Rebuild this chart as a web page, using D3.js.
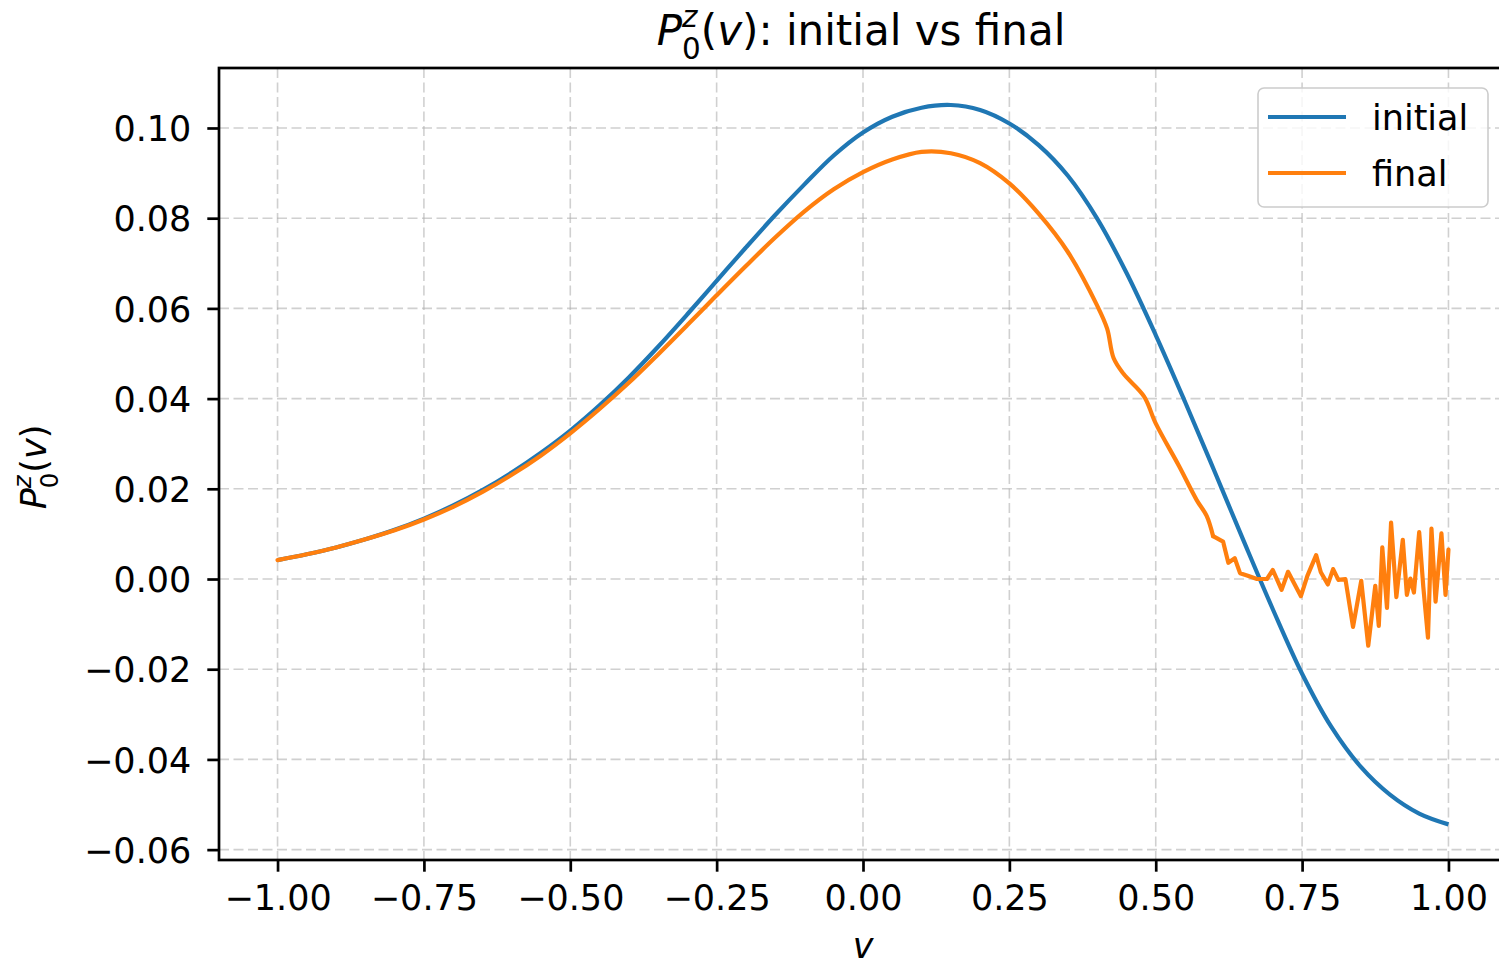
<!DOCTYPE html>
<html>
<head>
<meta charset="utf-8">
<script src="https://cdnjs.cloudflare.com/ajax/libs/d3/7.8.5/d3.min.js"></script>
<style>
  body { margin: 0; background: #fff; }
  svg { display: block; font-family: "DejaVu Sans", sans-serif; }
  .grid line { stroke: #b0b0b0; stroke-opacity: 0.6; stroke-width: 1.6; stroke-dasharray: 10,4.5; }
  .axis path, .axis line { stroke: #000; stroke-width: 2.7; }
  .axis text { font-size: 35px; fill: #000; font-family: "DejaVu Sans", sans-serif; }
</style>
</head>
<body>
<svg id="chart" width="1499" height="966"></svg>
<script>
// data
const initialV = d3.range(41).map(i => -1 + i * 0.05);
const initialP = [
  0.0042, 0.0055, 0.0070, 0.0088, 0.0109, 0.0134, 0.0163, 0.0197, 0.0236, 0.0280,
  0.0329, 0.0385, 0.0447, 0.0515, 0.0587, 0.0661, 0.0735, 0.0807, 0.0875, 0.0939,
  0.0990, 0.1025, 0.1045, 0.1051, 0.1040, 0.1010, 0.0962, 0.0894, 0.0799, 0.0679,
  0.0541, 0.0393, 0.0240, 0.0085, -0.0067, -0.0210, -0.0328, -0.0416, -0.0478, -0.0520,
  -0.0544
];

// final: smooth part, then the noisy tail
const finalV = [
  -1.00, -0.95, -0.90, -0.85, -0.80, -0.75, -0.70, -0.65, -0.60, -0.55,
  -0.50, -0.45, -0.40, -0.35, -0.30, -0.25, -0.20, -0.15, -0.10, -0.05,
  0.00, 0.05, 0.10, 0.15, 0.20, 0.25, 0.30, 0.35, 0.40, 0.417,
  0.428, 0.445, 0.48, 0.50, 0.54, 0.57, 0.587, 0.598,
  0.615, 0.624, 0.635, 0.644, 0.656, 0.673, 0.690, 0.700, 0.715, 0.726,
  0.748, 0.759, 0.774, 0.782, 0.794, 0.803, 0.812, 0.824, 0.837, 0.851,
  0.863, 0.875, 0.881, 0.887, 0.895, 0.902, 0.911, 0.922, 0.929, 0.935,
  0.941, 0.950, 0.957, 0.965, 0.971, 0.978, 0.988, 0.995, 1.000
];
const finalP = [
  0.0042, 0.0055, 0.0070, 0.0088, 0.0108, 0.0132, 0.0160, 0.0193, 0.0231, 0.0274,
  0.0323, 0.0377, 0.0435, 0.0498, 0.0563, 0.0629, 0.0694, 0.0757, 0.0815, 0.0864,
  0.0902, 0.0930, 0.0947, 0.0944, 0.0922, 0.0877, 0.0810, 0.0725, 0.0606, 0.0555,
  0.0490, 0.0455, 0.0405, 0.0345, 0.0250, 0.0175, 0.0140, 0.0095,
  0.0083, 0.0036, 0.0046, 0.0013, 0.0008, 0.0000, 0.0000, 0.0020, -0.0024, 0.0016,
  -0.0038, 0.0007, 0.0053, 0.0015, -0.0012, 0.0022, -0.0002, 0.0000, -0.0106, -0.0004,
  -0.0148, -0.0015, -0.0104, 0.0070, -0.0064, 0.0125, -0.0040, 0.0087, -0.0035, 0.0001,
  -0.0030, 0.0104, -0.0017, -0.0130, 0.0112, -0.0050, 0.0101, -0.0035, 0.0065
];
const finalSmoothEnd = 37; // index where the noisy tail starts

const xTicks = [-1.00, -0.75, -0.50, -0.25, 0.00, 0.25, 0.50, 0.75, 1.00];
const yTicks = [-0.06, -0.04, -0.02, 0.00, 0.02, 0.04, 0.06, 0.08, 0.10];

const seriesNames = ["initial", "final"];
const seriesColors = ["#1f77b4", "#ff7f0e"];

const svg = d3.select("#chart");
const plotL = 219, plotR = 1507, plotT = 68, plotB = 860;
const fs = 35;

const x = d3.scaleLinear().domain([-1.1, 1.1]).range([plotL, plotR]);
const y = d3.scaleLinear().domain([-0.0623, 0.1133]).range([plotB, plotT]);

// grid
const grid = svg.append("g").attr("class", "grid");
grid.selectAll(".gx").data(xTicks).enter().append("line")
    .attr("x1", d => x(d)).attr("x2", d => x(d))
    .attr("y1", plotT).attr("y2", plotB);
grid.selectAll(".gy").data(yTicks).enter().append("line")
    .attr("x1", plotL).attr("x2", plotR)
    .attr("y1", d => y(d)).attr("y2", d => y(d));

// lines
const smoothLine = d3.line().x(d => x(d[0])).y(d => y(d[1])).curve(d3.curveCatmullRom);
const rawLine = d3.line().x(d => x(d[0])).y(d => y(d[1]));
const finalPts = finalV.map((v, i) => [v, finalP[i]]);

svg.append("path")
    .datum(initialV.map((v, i) => [v, initialP[i]]))
    .attr("fill", "none").attr("stroke", seriesColors[0]).attr("stroke-width", 4.2)
    .attr("stroke-linejoin", "round")
    .attr("d", smoothLine);
svg.append("path")
    .datum(finalPts.slice(0, finalSmoothEnd + 1))
    .attr("fill", "none").attr("stroke", seriesColors[1]).attr("stroke-width", 4.2)
    .attr("stroke-linejoin", "round").attr("stroke-linecap", "round")
    .attr("d", smoothLine);
svg.append("path")
    .datum(finalPts.slice(finalSmoothEnd))
    .attr("fill", "none").attr("stroke", seriesColors[1]).attr("stroke-width", 4.2)
    .attr("stroke-linejoin", "round").attr("stroke-linecap", "round")
    .attr("d", rawLine);

// axes
const fmt = d3.format(".2f");
svg.append("g").attr("class", "axis")
    .attr("transform", `translate(0,${plotB})`)
    .call(d3.axisBottom(x).tickValues(xTicks).tickFormat(fmt).tickSize(11.7).tickPadding(13))
    .call(g => g.select(".domain").remove());
svg.append("g").attr("class", "axis")
    .attr("transform", `translate(${plotL},0)`)
    .call(d3.axisLeft(y).tickValues(yTicks).tickFormat(fmt).tickSize(11.7).tickPadding(16))
    .call(g => g.select(".domain").remove())
    .selectAll("text").attr("dy", "0.36em");

// spines
svg.append("rect")
    .attr("x", plotL).attr("y", plotT)
    .attr("width", plotR - plotL).attr("height", plotB - plotT)
    .attr("fill", "none").attr("stroke", "#000").attr("stroke-width", 2.7);

// P_0^z(v) in mathtext style
function mathP(t, size) {
  t.append("tspan").attr("font-style", "italic").text("P");
  t.append("tspan").attr("font-size", size * 0.7).attr("font-style", "italic")
      .attr("dy", -0.42 * size).text("z");
  t.append("tspan").attr("font-size", size * 0.7)
      .attr("dx", -0.525 * 0.7 * size).attr("dy", 0.75 * size).text("0");
  t.append("tspan").attr("dy", -0.33 * size).text("(");
  t.append("tspan").attr("font-style", "italic").text("v");
  t.append("tspan").text(")");
}

// title
const title = svg.append("text")
    .attr("x", 861).attr("y", 45)
    .attr("text-anchor", "middle")
    .attr("font-size", 42).attr("fill", "#000");
mathP(title, 42);
title.append("tspan").text(": initial vs final");

// y label
const ylab = svg.append("text")
    .attr("transform", "translate(46,467) rotate(-90)")
    .attr("text-anchor", "middle")
    .attr("font-size", fs).attr("fill", "#000");
mathP(ylab, fs);

// x label
svg.append("text")
    .attr("x", x(0)).attr("y", 958)
    .attr("text-anchor", "middle")
    .attr("font-size", fs).attr("font-style", "italic")
    .text("v");

// legend
const leg = svg.append("g");
leg.append("rect")
    .attr("x", 1258).attr("y", 88).attr("width", 230).attr("height", 119)
    .attr("rx", 6).attr("fill", "#fff").attr("fill-opacity", 0.8)
    .attr("stroke", "#cccccc").attr("stroke-width", 1.6);
seriesNames.forEach((name, i) => {
  const ly = 117 + i * 56;
  leg.append("line")
      .attr("x1", 1268).attr("x2", 1346).attr("y1", ly).attr("y2", ly)
      .attr("stroke", seriesColors[i]).attr("stroke-width", 4.2);
  leg.append("text")
      .attr("x", 1372).attr("y", ly + 13)
      .attr("font-size", fs).attr("fill", "#000")
      .text(name);
});
</script>
</body>
</html>
